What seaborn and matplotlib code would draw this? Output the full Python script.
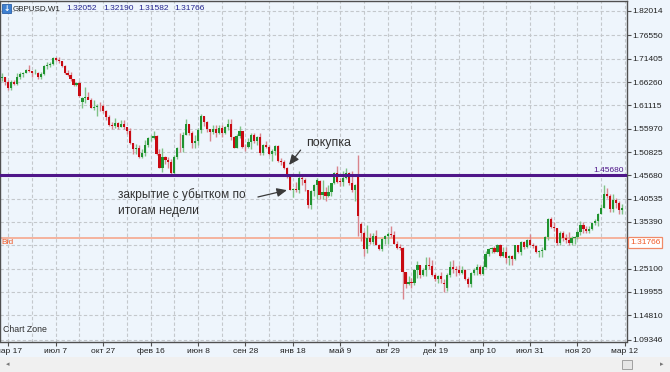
import matplotlib
matplotlib.use("Agg")
import matplotlib.pyplot as plt
import seaborn as sns
import numpy as np
import pandas as pd
from matplotlib.patches import Rectangle

# ---------------- data (weekly GBPUSD candles, first candle = week -2) ----------------
first_week = -2
opens = [1.6710, 1.6729, 1.6634, 1.6495, 1.6637, 1.6580, 1.6736, 1.6795, 1.6826, 1.6890,
         1.6865, 1.6822, 1.6832, 1.6740, 1.6798, 1.6976, 1.7011, 1.7017, 1.7155, 1.7104,
         1.7083, 1.6981, 1.6827, 1.6790, 1.6685, 1.6563, 1.6597, 1.6180, 1.6266, 1.6302,
         1.6230, 1.6060, 1.6081, 1.6093, 1.6089, 1.5998, 1.5861, 1.5686, 1.5663, 1.5716,
         1.5634, 1.5711, 1.5626, 1.5548, 1.5278, 1.5153, 1.5168, 1.4980, 1.5058, 1.5240,
         1.5392, 1.5394, 1.5437, 1.5040, 1.4734, 1.4962, 1.4906, 1.4864, 1.4623, 1.4963,
         1.5182, 1.5165, 1.5455, 1.5697, 1.5496, 1.5285, 1.5330, 1.5563, 1.5877, 1.5745,
         1.5595, 1.5516, 1.5597, 1.5509, 1.5613, 1.5493, 1.5640, 1.5697, 1.5404, 1.5182,
         1.5431, 1.5536, 1.5193, 1.5184, 1.5311, 1.5464, 1.5322, 1.5424, 1.5050, 1.5240,
         1.5185, 1.5033, 1.5104, 1.5207, 1.4892, 1.4864, 1.4736, 1.4582, 1.4252, 1.4267,
         1.4247, 1.4500, 1.4460, 1.4250, 1.3919, 1.4230, 1.4365, 1.4440, 1.4129, 1.4206,
         1.4117, 1.4205, 1.4404, 1.4615, 1.4431, 1.4424, 1.4499, 1.4627, 1.4407, 1.4252,
         1.4580, 1.3500, 1.3286, 1.2951, 1.3193, 1.3098, 1.3235, 1.3033, 1.2946, 1.3155,
         1.3225, 1.3277, 1.3261, 1.3058, 1.2971, 1.2970, 1.2431, 1.2180, 1.2224, 1.2190,
         1.2480, 1.2598, 1.2377, 1.2475, 1.2590, 1.2557, 1.2376, 1.2281, 1.2341, 1.2200,
         1.2075, 1.2370, 1.2551, 1.2497, 1.2481, 1.2410, 1.2470, 1.2291, 1.2176, 1.2402,
         1.2477, 1.2550, 1.2386, 1.2544, 1.2827, 1.2943, 1.2965, 1.2886, 1.3031, 1.2796,
         1.2885, 1.2745, 1.2781, 1.2711, 1.3026, 1.2885, 1.3099, 1.2995, 1.3138, 1.3041,
         1.3010, 1.2875, 1.2894, 1.2922, 1.3200, 1.3611, 1.3434, 1.3397, 1.3070, 1.3285,
         1.3190, 1.3134, 1.3080, 1.3190, 1.3217, 1.3311, 1.3474, 1.3378, 1.3339, 1.3378,
         1.3508, 1.3567, 1.3725, 1.3857, 1.4159, 1.4122, 1.3827, 1.4025, 1.3965, 1.3797]
highs = [1.6822, 1.6743, 1.6667, 1.6668, 1.6682, 1.6822, 1.6842, 1.6841, 1.6924, 1.6996,
         1.6880, 1.6922, 1.6850, 1.6855, 1.6992, 1.7061, 1.7066, 1.7180, 1.7178, 1.7190,
         1.7092, 1.6997, 1.6903, 1.6853, 1.6693, 1.6636, 1.6644, 1.6298, 1.6525, 1.6408,
         1.6270, 1.6227, 1.6140, 1.6183, 1.6150, 1.6014, 1.5898, 1.5736, 1.5825, 1.5742,
         1.5786, 1.5785, 1.5639, 1.5620, 1.5280, 1.5269, 1.5228, 1.5159, 1.5352, 1.5415,
         1.5455, 1.5552, 1.5455, 1.5143, 1.5165, 1.4990, 1.4965, 1.4918, 1.5015, 1.5200,
         1.5497, 1.5522, 1.5815, 1.5711, 1.5537, 1.5450, 1.5617, 1.5930, 1.5888, 1.5771,
         1.5598, 1.5675, 1.5678, 1.5676, 1.5689, 1.5658, 1.5805, 1.5819, 1.5437, 1.5474,
         1.5659, 1.5544, 1.5250, 1.5383, 1.5509, 1.5509, 1.5440, 1.5507, 1.5259, 1.5335,
         1.5247, 1.5158, 1.5243, 1.5241, 1.4954, 1.4903, 1.4751, 1.4596, 1.4285, 1.4414,
         1.4668, 1.4598, 1.4503, 1.4250, 1.4245, 1.4367, 1.4515, 1.4460, 1.4459, 1.4300,
         1.4353, 1.4409, 1.4632, 1.4770, 1.4506, 1.4664, 1.4732, 1.4650, 1.4660, 1.4378,
         1.5018, 1.3534, 1.3343, 1.3479, 1.3292, 1.3286, 1.3371, 1.3058, 1.3185, 1.3249,
         1.3323, 1.3445, 1.3337, 1.3122, 1.3056, 1.2986, 1.2442, 1.2337, 1.2302, 1.2511,
         1.2673, 1.2599, 1.2512, 1.2775, 1.2775, 1.2705, 1.2406, 1.2375, 1.2432, 1.2280,
         1.2415, 1.2673, 1.2706, 1.2569, 1.2582, 1.2569, 1.2490, 1.2323, 1.2428, 1.2524,
         1.2615, 1.2595, 1.2597, 1.2905, 1.2966, 1.2990, 1.3000, 1.3048, 1.3047, 1.2977,
         1.2977, 1.2813, 1.2815, 1.3028, 1.3029, 1.3125, 1.3126, 1.3153, 1.3268, 1.3083,
         1.3035, 1.2921, 1.2979, 1.3221, 1.3616, 1.3657, 1.3539, 1.3411, 1.3338, 1.3336,
         1.3266, 1.3321, 1.3224, 1.3235, 1.3351, 1.3550, 1.3549, 1.3458, 1.3456, 1.3522,
         1.3613, 1.3743, 1.3943, 1.4345, 1.4284, 1.4156, 1.4146, 1.4069, 1.4000, 1.3930]
lows = [1.6640, 1.6571, 1.6460, 1.6450, 1.6557, 1.6563, 1.6690, 1.6740, 1.6822, 1.6840,
        1.6733, 1.6795, 1.6693, 1.6694, 1.6782, 1.6923, 1.6960, 1.7008, 1.7083, 1.7050,
        1.6963, 1.6810, 1.6760, 1.6645, 1.6534, 1.6539, 1.6296, 1.6052, 1.6160, 1.6247,
        1.6048, 1.6008, 1.5875, 1.5989, 1.5944, 1.5792, 1.5651, 1.5593, 1.5620, 1.5594,
        1.5629, 1.5588, 1.5486, 1.5250, 1.5035, 1.5035, 1.4952, 1.4950, 1.4986, 1.5198,
        1.5335, 1.5380, 1.5025, 1.4723, 1.4633, 1.4813, 1.4738, 1.4565, 1.4577, 1.4920,
        1.5087, 1.5089, 1.5452, 1.5447, 1.5171, 1.5170, 1.5234, 1.5500, 1.5659, 1.5529,
        1.5329, 1.5486, 1.5410, 1.5479, 1.5414, 1.5475, 1.5573, 1.5350, 1.5163, 1.5163,
        1.5383, 1.5168, 1.5106, 1.5162, 1.5160, 1.5280, 1.5240, 1.5026, 1.5025, 1.5170,
        1.5011, 1.4895, 1.5015, 1.4866, 1.4805, 1.4708, 1.4513, 1.4236, 1.4080, 1.4200,
        1.4180, 1.4351, 1.4228, 1.3836, 1.3835, 1.4109, 1.4053, 1.4054, 1.4054, 1.4006,
        1.4080, 1.4111, 1.4370, 1.4404, 1.4331, 1.4332, 1.4495, 1.4350, 1.4208, 1.4010,
        1.3229, 1.3122, 1.2798, 1.2853, 1.3058, 1.3062, 1.3028, 1.2915, 1.2890, 1.3062,
        1.3055, 1.3217, 1.3053, 1.2944, 1.2915, 1.1841, 1.2086, 1.2153, 1.2083, 1.2157,
        1.2300, 1.2301, 1.2345, 1.2344, 1.2493, 1.2336, 1.2241, 1.2199, 1.2200, 1.1986,
        1.2026, 1.2332, 1.2412, 1.2344, 1.2384, 1.2383, 1.2250, 1.2110, 1.2110, 1.2376,
        1.2376, 1.2365, 1.2366, 1.2515, 1.2778, 1.2843, 1.2845, 1.2866, 1.2774, 1.2774,
        1.2636, 1.2588, 1.2589, 1.2694, 1.2848, 1.2812, 1.2932, 1.2966, 1.3026, 1.2954,
        1.2843, 1.2773, 1.2772, 1.2910, 1.3147, 1.3400, 1.3340, 1.3027, 1.3026, 1.3126,
        1.3084, 1.3038, 1.3039, 1.3062, 1.3168, 1.3242, 1.3302, 1.3300, 1.3302, 1.3359,
        1.3461, 1.3458, 1.3712, 1.3839, 1.4058, 1.3764, 1.3768, 1.3857, 1.3713, 1.3712]
closes = [1.6729, 1.6634, 1.6495, 1.6637, 1.6580, 1.6736, 1.6795, 1.6826, 1.6890, 1.6865,
          1.6822, 1.6832, 1.6740, 1.6798, 1.6976, 1.7011, 1.7017, 1.7155, 1.7104, 1.7083,
          1.6981, 1.6827, 1.6790, 1.6685, 1.6563, 1.6597, 1.6316, 1.6266, 1.6302, 1.6230,
          1.6060, 1.6081, 1.6093, 1.6089, 1.5998, 1.5861, 1.5686, 1.5663, 1.5716, 1.5634,
          1.5711, 1.5626, 1.5548, 1.5278, 1.5153, 1.5168, 1.4980, 1.5058, 1.5240, 1.5392,
          1.5394, 1.5437, 1.5040, 1.4734, 1.4962, 1.4906, 1.4864, 1.4623, 1.4963, 1.5182,
          1.5165, 1.5455, 1.5697, 1.5496, 1.5285, 1.5330, 1.5563, 1.5877, 1.5745, 1.5595,
          1.5516, 1.5597, 1.5509, 1.5613, 1.5493, 1.5640, 1.5697, 1.5404, 1.5182, 1.5431,
          1.5536, 1.5193, 1.5184, 1.5311, 1.5464, 1.5322, 1.5424, 1.5050, 1.5240, 1.5185,
          1.5033, 1.5104, 1.5207, 1.4892, 1.4864, 1.4736, 1.4582, 1.4252, 1.4267, 1.4247,
          1.4500, 1.4495, 1.4398, 1.3919, 1.4230, 1.4365, 1.4466, 1.4129, 1.4206, 1.4117,
          1.4205, 1.4404, 1.4615, 1.4431, 1.4424, 1.4499, 1.4627, 1.4407, 1.4252, 1.4361,
          1.3679, 1.3286, 1.2951, 1.3193, 1.3098, 1.3235, 1.3033, 1.2946, 1.3155, 1.3225,
          1.3277, 1.3261, 1.3058, 1.2971, 1.2970, 1.2431, 1.2180, 1.2224, 1.2190, 1.2480,
          1.2598, 1.2377, 1.2475, 1.2590, 1.2557, 1.2376, 1.2281, 1.2341, 1.2284, 1.2174,
          1.2370, 1.2551, 1.2497, 1.2481, 1.2410, 1.2470, 1.2291, 1.2176, 1.2402, 1.2477,
          1.2550, 1.2386, 1.2544, 1.2827, 1.2943, 1.2965, 1.2886, 1.3031, 1.2796, 1.2885,
          1.2745, 1.2781, 1.2711, 1.3026, 1.2885, 1.3099, 1.2995, 1.3138, 1.3041, 1.3010,
          1.2875, 1.2894, 1.2922, 1.3200, 1.3611, 1.3434, 1.3397, 1.3070, 1.3285, 1.3190,
          1.3134, 1.3080, 1.3190, 1.3217, 1.3311, 1.3474, 1.3378, 1.3339, 1.3378, 1.3508,
          1.3567, 1.3725, 1.3857, 1.4159, 1.4122, 1.3827, 1.4025, 1.3965, 1.3797, 1.3852]

date_labels = ["мар 17", "июл 7", "окт 27", "фев 16", "июн 8", "сен 28", "янв 18",
               "май 9", "авг 29", "дек 19", "апр 10", "июл 31", "ноя 20", "мар 12"]
date_label_weeks = [0, 16, 32, 48, 64, 80, 96, 112, 128, 144, 160, 176, 192, 208]
grid_weeks = [0, 8, 16, 24, 32, 40, 48, 56, 64, 72, 80, 88, 96, 104, 112, 120, 128,
              136, 144, 152, 160, 168, 176, 184, 192, 200, 208]
price_ticks = [1.82014, 1.76550, 1.71405, 1.66260, 1.61115, 1.55970, 1.50825, 1.45680,
               1.40535, 1.35390, 1.25100, 1.19955, 1.14810, 1.09346]
price_grid = price_ticks + [1.30245]
buy_level = 1.45680
bid_level = 1.31766
header_symbol = "GBPUSD,W1"
header_values = ["1.32052", "1.32190", "1.31582", "1.31766"]

df = pd.DataFrame({"open": opens, "high": highs, "low": lows, "close": closes})
df["week"] = np.arange(len(df)) + first_week
df["up"] = df["close"] >= df["open"]

# ---------------- styling ----------------
sns.set_theme(style="white")
plt.rcParams["font.family"] = ["Liberation Sans", "DejaVu Sans"]

BG = "#eef5fc"
fig = plt.figure(figsize=(6.7, 3.72), dpi=100, facecolor=BG)
W, H = 670, 372
ax = fig.add_axes([0.0 / W, (H - 341.5) / H, 627 / W, 340.5 / H])
ax.set_facecolor(BG)

ax.set_xlim(-2.8, 208.7)
ax.set_ylim(1.0901, 1.8415)

# grid
for g in grid_weeks:
    ax.axvline(g, color="#c4c8cc", lw=0.8, ls=(0, (3, 2)), zorder=0)
for p in price_grid:
    ax.axhline(p, color="#c4c8cc", lw=0.8, ls=(0, (3, 2)), zorder=0)

# candles
up_body, dn_body = "#1f932f", "#c80a12"
up_wick, dn_wick = "#7fc287", "#d9848c"
for up, body_c, wick_c in [(True, up_body, up_wick), (False, dn_body, dn_wick)]:
    d = df[df["up"] == up]
    ax.vlines(d["week"], d["low"], d["high"], color=wick_c, lw=1.0, zorder=2)
    bottoms = np.minimum(d["open"], d["close"])
    heights = np.maximum(np.abs(d["close"] - d["open"]), 0.0008)
    ax.bar(d["week"], heights, bottom=bottoms, width=0.74, color=body_c,
           edgecolor="none", zorder=3)

# horizontal lines
ax.axhline(buy_level, color="#4f1689", lw=2.2, zorder=4)
ax.axhline(bid_level, color="#f6a88e", lw=1.2, zorder=1.5)
ax.text(207.5, buy_level + 0.004, f"{buy_level:.5f}", color="#4f1689", fontsize=6,
        ha="right", va="bottom", zorder=5)
ax.text(-2.3, bid_level - 0.002, "Bid", color="#f05a28", fontsize=6, ha="left", va="top")

# spines & ticks
for s in ax.spines.values():
    s.set_color("#505050")
    s.set_linewidth(1.0)
ax.yaxis.tick_right()
ax.set_yticks(price_ticks)
ax.set_yticklabels([f"{p:.5f}" for p in price_ticks], fontsize=6, color="#202020")
ax.set_xticks(date_label_weeks)
ax.set_xticklabels(date_labels, fontsize=6, color="#202020")
ax.tick_params(axis="y", which="both", right=True, left=False, length=3, width=0.8,
               color="#505050", pad=1)
ax.tick_params(axis="x", which="both", bottom=True, length=3, width=0.8,
               color="#505050", pad=2)
ax.grid(False)

# bid box on price scale
ax.text(1.0 + 3 / 627, bid_level - 0.002, f"{bid_level:.5f}", transform=ax.get_yaxis_transform(),
        color="#f05a28", fontsize=6, ha="left", va="top",
        bbox=dict(boxstyle="square,pad=0.25", fc="white", ec="#f08a68", lw=0.9), zorder=6)

# annotations
arrow = dict(arrowstyle="-|>,head_length=0.5,head_width=0.22", color="#3a3a3a", lw=0.9,
             shrinkA=0, shrinkB=0)
ax.annotate("", xy=(94.7, 1.4797), xytext=(98.6, 1.5125), arrowprops=arrow, zorder=6)
ax.text(100.5, 1.5285, "покупка", fontsize=9, color="#333333", ha="left", va="center")
ax.annotate("", xy=(94.0, 1.4241), xytext=(84.2, 1.4090), arrowprops=arrow, zorder=6)
ax.text(37.0, 1.4135, "закрытие с убытком по", fontsize=8.6, color="#333333",
        ha="left", va="center")
ax.text(37.0, 1.3782, "итогам недели", fontsize=8.6, color="#333333",
        ha="left", va="center")

# header & footer texts
fig.patches.append(Rectangle((2 / W, (H - 13) / H), 9 / W, 9 / H, transform=fig.transFigure,
                             fc="#3d7fd0", ec="#2a5fa8", lw=0.6))
fig.text(6.5 / W, (H - 8.5) / H, "↓", fontsize=5.5, color="white", ha="center", va="center",
         family="DejaVu Sans", fontweight="bold")
fig.text(13 / W, (H - 8.5) / H, header_symbol, fontsize=5.8, color="#202020", va="center")
for xv, v in zip([66, 103, 138, 174], header_values):
    fig.text(xv / W, (H - 8.5) / H, v, fontsize=6, color="#24248f", va="center")
ax.text(3 / 627, 0.022, "Chart Zone", transform=ax.transAxes, fontsize=6.3, color="#303030",
        ha="left", va="bottom")

# scrollbar area
fig.patches.append(Rectangle((0, 0), 1, 15 / H, transform=fig.transFigure,
                             fc="#f0f0f0", ec="none"))
fig.patches.append(Rectangle((622 / W, 3 / H), 10 / W, 9 / H, transform=fig.transFigure,
                             fc="#e6e6e6", ec="#a0a0a0", lw=0.7))
fig.text(8 / W, 7.5 / H, "◂", fontsize=5, color="#777777", ha="center", va="center",
         family="DejaVu Sans")
fig.text(662 / W, 7.5 / H, "▸", fontsize=5, color="#777777", ha="center", va="center",
         family="DejaVu Sans")

fig.savefig("out.png", dpi=100, facecolor=fig.get_facecolor())
